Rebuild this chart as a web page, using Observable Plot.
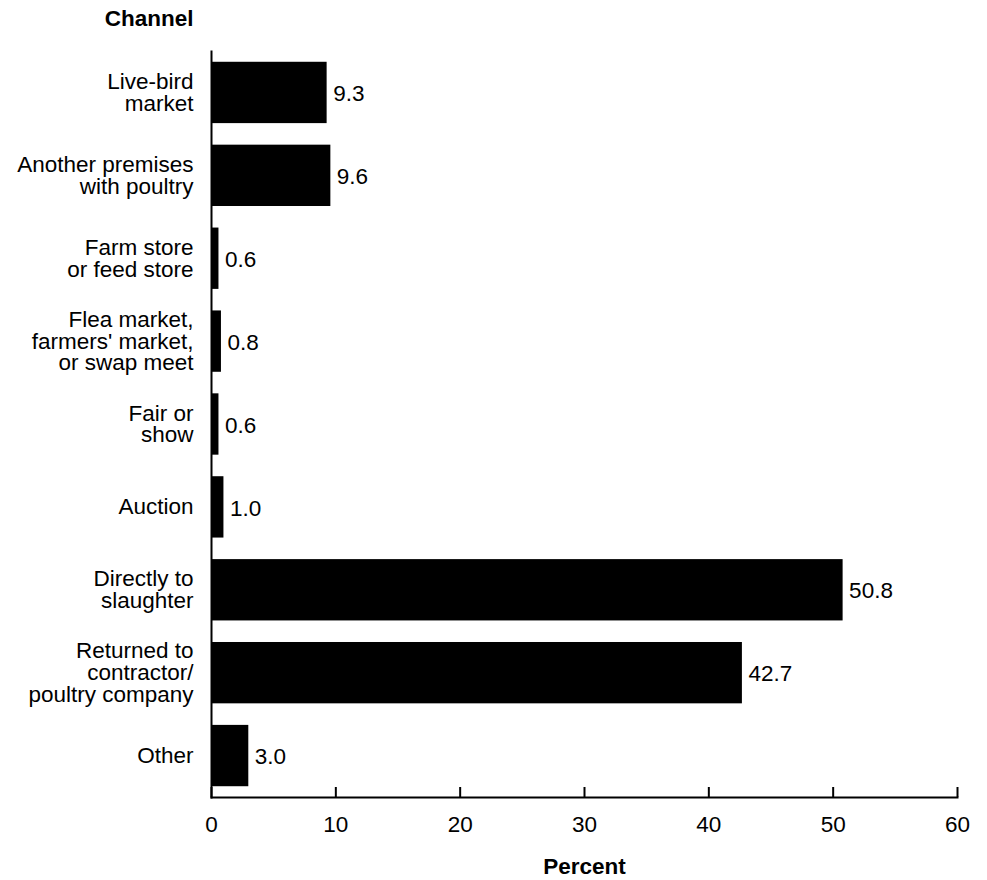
<!DOCTYPE html>
<html>
<head>
<meta charset="utf-8">
<script src="https://cdn.jsdelivr.net/npm/d3@7"></script>
<script src="https://cdn.jsdelivr.net/npm/@observablehq/plot@0.6"></script>
<style>
  body { margin: 0; background: #fff; }
</style>
</head>
<body>
<div id="chart"></div>
<script>
const channels = [
  "Live-bird market",
  "Another premises with poultry",
  "Farm store or feed store",
  "Flea market, farmers' market, or swap meet",
  "Fair or show",
  "Auction",
  "Directly to slaughter",
  "Returned to contractor/ poultry company",
  "Other"
];
const channelLabels = [
  "Live-bird\nmarket",
  "Another premises\nwith poultry",
  "Farm store\nor feed store",
  "Flea market,\nfarmers' market,\nor swap meet",
  "Fair or\nshow",
  "Auction",
  "Directly to\nslaughter",
  "Returned to\ncontractor/\npoultry company",
  "Other"
];
const percents = [9.3, 9.6, 0.6, 0.8, 0.6, 1.0, 50.8, 42.7, 3.0];
const xTicks = [0, 10, 20, 30, 40, 50, 60];
const xLabel = "Percent";
const yLabel = "Channel";

const data = channels.map((c, i) => ({channel: c, label: channelLabels[i], value: percents[i]}));
const labelOf = new Map(data.map(d => [d.channel, d.label]));
const font = "'Liberation Sans', Arial, Helvetica, sans-serif";
const fs = 22.5;
const W = 987, H = 880, mT = 51, mB = 83;
const tickLen = 10;

const chart = Plot.plot({
  width: W,
  height: H,
  marginLeft: 211,
  marginRight: 30,
  marginTop: mT,
  marginBottom: mB,
  style: {fontFamily: font, fontSize: fs + "px", color: "#000", background: "#fff"},
  x: {domain: [0, 60]},
  y: {domain: channels, paddingInner: 0.26, paddingOuter: 0.13, round: false},
  marks: [
    Plot.barX(data, {x: "value", y: "channel", fill: "#000"}),
    Plot.text(data, {x: "value", y: "channel", text: d => d.value.toFixed(1), dx: 6, dy: 1, textAnchor: "start", fontSize: fs, fill: "#000"}),
    Plot.axisY({tickSize: 0, tickPadding: 18, tickFormat: d => labelOf.get(d), lineHeight: 0.965, fontSize: fs, label: null}),
    // tick marks pointing up from the x axis line
    Plot.ruleX(xTicks, {x: d => d, insetTop: (H - mT - mB) - tickLen, stroke: "#000", strokeWidth: 2}),
    // tick labels
    Plot.axisX({ticks: xTicks, tickSize: 0, tickPadding: 19, fontSize: fs, label: null}),
    Plot.frame({anchor: "left", stroke: "#000", strokeWidth: 2}),
    Plot.frame({anchor: "bottom", stroke: "#000", strokeWidth: 2}),
    Plot.text([yLabel], {frameAnchor: "top-left", dx: -18, dy: -33, textAnchor: "end", lineAnchor: "middle", fontWeight: "bold", fontSize: fs, fill: "#000"}),
    Plot.text([xLabel], {frameAnchor: "bottom", dy: 69, lineAnchor: "middle", fontWeight: "bold", fontSize: fs, fill: "#000"})
  ]
});
document.getElementById("chart").appendChild(chart);
</script>
</body>
</html>
